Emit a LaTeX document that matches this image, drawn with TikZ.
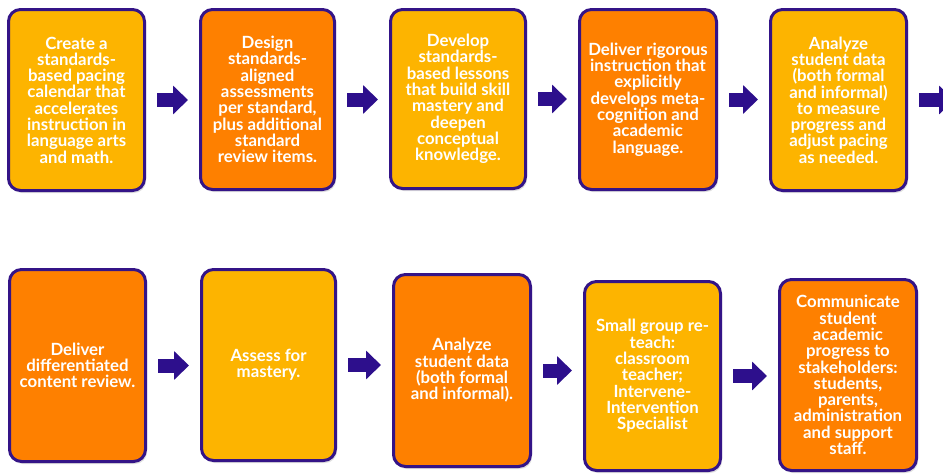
\documentclass[tikz,border=0pt]{standalone}
\usepackage{fontspec}
\setmainfont{Lato}
\usetikzlibrary{arrows.meta,shadows}
\definecolor{lightor}{RGB}{253,180,0}
\definecolor{darkor}{RGB}{254,128,0}
\definecolor{edgepurple}{RGB}{52,20,135}
\definecolor{arrowpurple}{RGB}{45,15,140}
\tikzset{
  box/.style={draw=edgepurple, line width=3pt, rounded corners=12pt, text=white,
    font=\bfseries\fontsize{16.8}{16.3}\selectfont, align=center, inner sep=0pt,
    drop shadow={shadow xshift=1.5pt, shadow yshift=-2.5pt, opacity=0.25}},
  lightbox/.style={box, fill=lightor},
  darkbox/.style={box, fill=darkor},
  flow/.style={draw=arrowpurple, line width=14pt, -{Triangle[length=15pt,width=28pt]},
    shorten <=11pt, shorten >=11pt},
}
\begin{document}
\begin{tikzpicture}[x=1pt, y=-1pt]
\useasboundingbox (0,0) rectangle (943,474);
\clip (0,0) rectangle (943,474);
\fill[white] (0,0) rectangle (943,474);
% top row
\node[lightbox, minimum width=136pt, minimum height=181pt] (B1) at (76.5,100)
  {Create a\\standards-\\based pacing\\calendar that\\accelerates\\instruction in\\language arts\\and math.};
\node[darkbox, minimum width=134pt, minimum height=180pt] (B2) at (267.5,99.5)
  {Design\\standards-\\aligned\\assessments\\per standard,\\plus additional\\standard\\review items.};
\node[lightbox, minimum width=135pt, minimum height=179pt] (B3) at (458,99)
  {Develop\\standards-\\based lessons\\that build skill\\mastery and\\deepen\\conceptual\\knowledge.};
\node[darkbox, minimum width=137pt, minimum height=180pt] (B4) at (648,99.5)
  {Deliver rigorous\\instruction that\\explicitly\\develops meta-\\cognition and\\academic\\language.};
\node[lightbox, minimum width=136pt, minimum height=181pt] (B5) at (838.5,100)
  {Analyze\\student data\\(both formal\\and informal)\\to measure\\progress and\\adjust pacing\\as needed.};
\coordinate (out) at (965,100);
% bottom row
\node[darkbox, minimum width=136pt, minimum height=192pt] (B6) at (77.5,365.5)
  {Deliver\\differentiated\\content review.};
\node[lightbox, minimum width=134pt, minimum height=191pt] (B7) at (268.5,365)
  {Assess for\\mastery.};
\node[darkbox, minimum width=137pt, minimum height=192pt] (B8) at (462,370.5)
  {Analyze\\student data\\(both formal\\and informal).};
\node[lightbox, minimum width=136pt, minimum height=189pt] (B9) at (652.5,376)
  {Small group re-\\teach:\\classroom\\teacher;\\Intervene-\\Intervention\\Specialist};
\node[darkbox, minimum width=137pt, minimum height=191pt] (B10) at (848,375)
  {Communicate\\student\\academic\\progress to\\stakeholders:\\students,\\parents,\\administration\\and support\\staff.};
% connectors
\draw[flow] (B1.east) -- (B1.east -| B2.west);
\draw[flow] (B2.east) -- (B2.east -| B3.west);
\draw[flow] (B3.east) -- (B3.east -| B4.west);
\draw[flow] (B4.east) -- (B4.east -| B5.west);
\draw[flow] (B5.east) -- (out);
\draw[flow] (B6.east) -- (B6.east -| B7.west);
\draw[flow] (B7.east) -- (B7.east -| B8.west);
\draw[flow] (B8.east) -- (B8.east -| B9.west);
\draw[flow] (B9.east) -- (B9.east -| B10.west);
\end{tikzpicture}
\end{document}
